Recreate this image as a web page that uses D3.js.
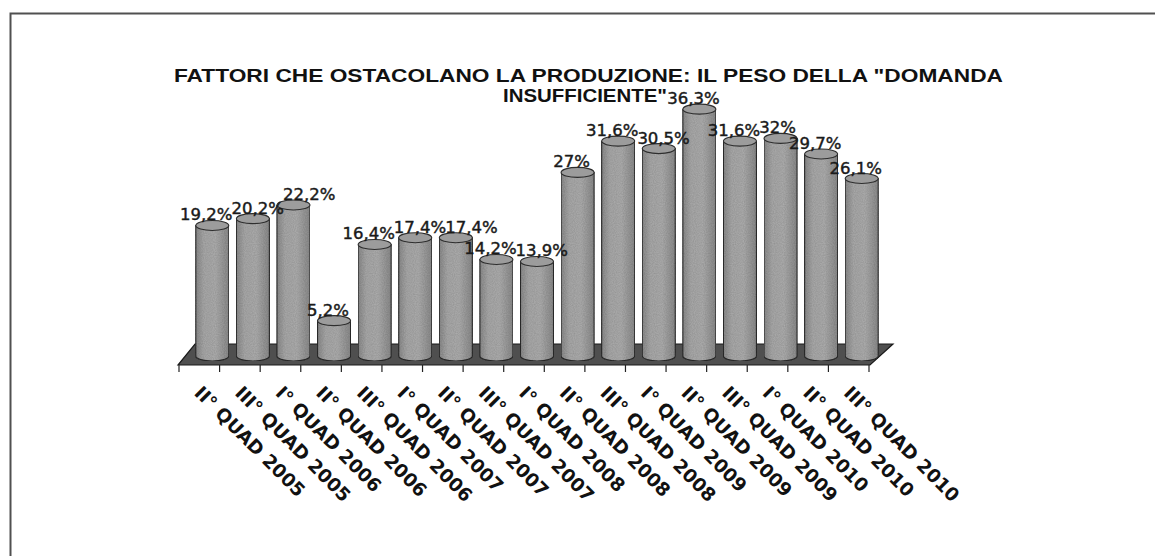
<!DOCTYPE html>
<html><head><meta charset="utf-8">
<script src="https://cdn.jsdelivr.net/npm/d3@7"></script>
<style>html,body{margin:0;padding:0;background:#fff;}svg{display:block;}</style>
</head><body>
<svg id="chart" width="1155" height="556"></svg>
<script>
const titleLines = ['FATTORI CHE OSTACOLANO LA PRODUZIONE: IL PESO DELLA "DOMANDA', 'INSUFFICIENTE"'];
const categories = ["II° QUAD 2005","III° QUAD 2005","I° QUAD 2006","II° QUAD 2006","III° QUAD 2006","I° QUAD 2007","II° QUAD 2007","III° QUAD 2007","I° QUAD 2008","II° QUAD 2008","III° QUAD 2008","I° QUAD 2009","II° QUAD 2009","III° QUAD 2009","I° QUAD 2010","II° QUAD 2010","III° QUAD 2010"];
const values = [19.2,20.2,22.2,5.2,16.4,17.4,17.4,14.2,13.9,27,31.6,30.5,36.3,31.6,32,29.7,26.1];

const svg = d3.select("#chart");
const defs = svg.append("defs");
const g1 = defs.append("linearGradient").attr("id","cyl").attr("x1","0").attr("x2","1").attr("y1","0").attr("y2","0");
[[0,"#8e8e8e"],[0.25,"#adadad"],[0.6,"#b1b1b1"],[1,"#8e8e8e"]].forEach(([o,c])=>g1.append("stop").attr("offset",o).attr("stop-color",c));
const flt = defs.append("filter").attr("id","grain").attr("x","0").attr("y","0").attr("width","1").attr("height","1");
flt.append("feTurbulence").attr("type","fractalNoise").attr("baseFrequency","0.9").attr("numOctaves","1").attr("seed","3").attr("result","n");
flt.append("feColorMatrix").attr("in","n").attr("type","matrix").attr("values","0 0 0 0 0  0 0 0 0 0  0 0 0 0 0  0 0 0 0.35 0").attr("result","a");
flt.append("feComposite").attr("in","a").attr("in2","SourceGraphic").attr("operator","in").attr("result","b");
flt.append("feMerge").selectAll("feMergeNode").data(["SourceGraphic","b"]).join("feMergeNode").attr("in",d=>d);

// frame
svg.append("path").attr("d","M10.5,556 L10.5,13.5 L1155,13.5").attr("fill","none").attr("stroke","#505050").attr("stroke-width",2);

// title
const font = "'Liberation Sans', Arial, sans-serif";
svg.append("text").attr("x",588.5).attr("y",82).attr("text-anchor","middle")
  .attr("font-family",font).attr("font-weight","bold").attr("font-size",19)
  .attr("textLength",829).attr("lengthAdjust","spacingAndGlyphs").attr("fill","#111").text(titleLines[0]);
svg.append("text").attr("x",585).attr("y",102).attr("text-anchor","middle")
  .attr("font-family",font).attr("font-weight","bold").attr("font-size",19)
  .attr("textLength",164).attr("lengthAdjust","spacingAndGlyphs").attr("fill","#111").text(titleLines[1]);

const x = d3.scaleBand().domain(categories).range([179,869]).paddingInner(0).paddingOuter(0);
const y = d3.scaleLinear().domain([0,40]).range([356,84]);
const bw = x.bandwidth();
const depthX = 20, depthY = -21, frontY = 365;
const barShift = 13, rx = 16.5, ry = 5;

// floor
const x0 = x.range()[0], x1 = x.range()[1];
svg.append("path")
  .attr("d",`M${x0-1},${frontY} L${x1+1},${frontY} L${x1+depthX+4},${frontY+depthY} L${x0+depthX-4},${frontY+depthY} Z`)
  .attr("fill","#4f4f4f").attr("stroke","#1a1a1a").attr("stroke-width",1.2);

// ticks
const tickPos = categories.map(c=>x(c)).concat([x1]);
svg.append("g").selectAll("line").data(tickPos).join("line")
  .attr("x1",d=>d).attr("x2",d=>d).attr("y1",frontY).attr("y2",frontY+7)
  .attr("stroke","#222").attr("stroke-width",1.2);

// bars
const bars = svg.append("g").selectAll("g").data(categories).join("g");
bars.each(function(c,i){
  const gg = d3.select(this);
  const cx = x(c) + bw/2 + barShift;
  const yt = y(values[i]), yb = y(0);
  gg.append("path")
    .attr("d",`M${cx-rx},${yt} L${cx-rx},${yb} A${rx},${ry} 0 0 0 ${cx+rx},${yb} L${cx+rx},${yt} Z`)
    .attr("fill","url(#cyl)").attr("stroke","#2e2e2e").attr("stroke-width",1.1).attr("filter","url(#grain)");
  gg.append("ellipse").attr("cx",cx).attr("cy",yt).attr("rx",rx).attr("ry",ry)
    .attr("fill","#9c9c9c").attr("stroke","#2e2e2e").attr("stroke-width",1.1);
});

// value labels (simple left-to-right collision nudge)
const labG = svg.append("g");
let prev = null;
categories.forEach((c,i)=>{
  const t = labG.append("text")
    .attr("text-anchor","start")
    .attr("font-family","'DejaVu Sans', Verdana, sans-serif").attr("font-size",16.5)
    .attr("fill","#1a1a1a").attr("stroke","#1a1a1a").attr("stroke-width",0.45)
    .text(String(values[i]).replace(".",",")+"%");
  const w = t.node().getComputedTextLength();
  const by = y(values[i]) - 5;
  let sx = x(c) + bw/2 + barShift - 6 - w/2;
  if (prev && Math.abs(prev.y - by) < 15 && sx < prev.end) sx = prev.end - 1;
  t.attr("x",sx).attr("y",by);
  prev = {end: sx + w, y: by};
});

// category labels
svg.append("g").selectAll("text").data(categories).join("text")
  .attr("transform",c=>`translate(${x(c)+bw/2-6},394) rotate(45)`)
  .attr("text-anchor","start")
  .attr("font-family","'DejaVu Sans', Verdana, sans-serif").attr("font-weight","bold").attr("font-size",18.5)
  .attr("fill","#111")
  .text(c=>c);
</script>
</body></html>
